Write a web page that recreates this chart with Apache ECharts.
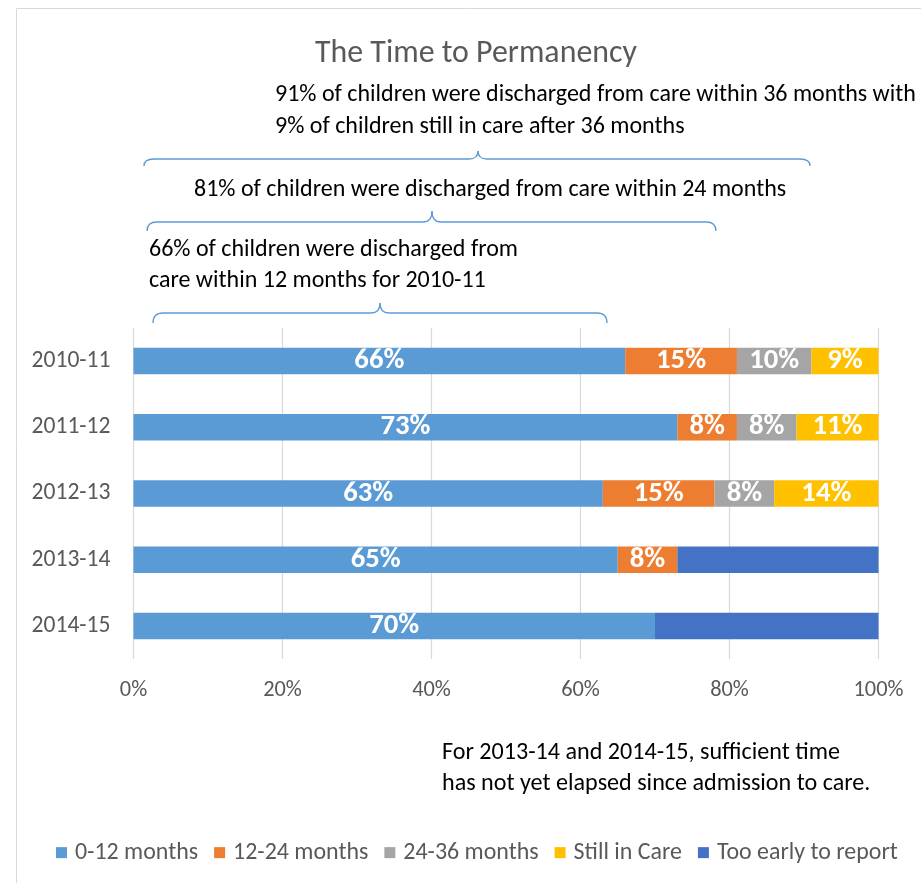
<!DOCTYPE html>
<html>
<head>
<meta charset="utf-8">
<script src="https://cdn.jsdelivr.net/npm/echarts@6/dist/echarts.min.js"></script>
<style>html,body{margin:0;padding:0;background:#fff;}#chart{width:921px;height:883px;}</style>
</head>
<body>
<div id="chart"></div>
<script>
const categories = ['2010-11', '2011-12', '2012-13', '2013-14', '2014-15'];
const seriesNames = ['0-12 months', '12-24 months', '24-36 months', 'Still in Care', 'Too early to report'];
const months0to12 = [66, 73, 63, 65, 70];
const months12to24 = [15, 8, 15, 8, 0];
const months24to36 = [10, 8, 8, 0, 0];
const stillInCare = [9, 11, 14, 0, 0];
const tooEarly = [0, 0, 0, 27, 30];
const titleText = 'The Time to Permanency';
const noteLines = ['For 2013-14 and 2014-15, sufficient time', 'has not yet elapsed since admission to care.'];
const annot36 = ['91% of children were discharged from care within 36 months with', '9% of children still in care after 36 months'];
const annot24 = ['81% of children were discharged from care within 24 months'];
const annot12 = ['66% of children were discharged from', 'care within 12 months for 2010-11'];

const colors = ['#5B9BD5', '#ED7D31', '#A5A5A5', '#FFC000', '#4472C4'];
const FONT = 'Carlito, Lato, sans-serif';
const mctx = document.createElement('canvas').getContext('2d');
function measure(text, weight) {
  mctx.font = (weight || 'normal') + ' 100px ' + FONT;
  return mctx.measureText(text).width;
}
function fit(text, target, weight) {
  return 100 * target / measure(text, weight);
}
const titleSize = fit(titleText, 322);
const annSize = fit(annot36[0], 641);
const noteSize = fit(noteLines[0], 398);
const catSize = fit('2010-11', 79);
const tickSize = fit('100%', 50);
const legendSize = 100 * 683 / seriesNames.reduce((s, n) => s + measure(n), 0);
const labelSize = fit('66%', 50, 'bold');

const chart = echarts.init(document.getElementById('chart'), null, {renderer: 'canvas'});

const braceStyle = {stroke: '#5B9BD5', lineWidth: 1.3, fill: 'none'};
function brace(x1, x2, tip, y, tipY, endY) {
  const r = 10, r2 = 9;
  const seg = (a, b, c) => ({type: 'bezierCurve', shape: {x1: a[0], y1: a[1], cpx1: b[0], cpy1: b[1], x2: c[0], y2: c[1]}, style: braceStyle, silent: true});
  const ln = (a, c) => ({type: 'line', shape: {x1: a[0], y1: a[1], x2: c[0], y2: c[1]}, style: braceStyle, silent: true});
  return [
    seg([x1, endY], [x1, y], [x1 + r, y]),
    ln([x1 + r, y], [tip - r2, y]),
    seg([tip - r2, y], [tip, y], [tip, tipY]),
    seg([tip, tipY], [tip, y], [tip + r2, y]),
    ln([tip + r2, y], [x2 - r, y]),
    seg([x2 - r, y], [x2, y], [x2, endY])
  ];
}
function txt(text, x, y, size, color) {
  return {type: 'text', x: x, y: y, style: {text: text, fill: color, font: size.toFixed(2) + 'px ' + FONT, verticalAlign: 'middle', align: 'left'}, silent: true};
}
const dataArrays = [months0to12, months12to24, months24to36, stillInCare, tooEarly];
const series = seriesNames.map((name, i) => ({
  name: name,
  type: 'bar',
  stack: 'total',
  barCategoryGap: '60%',
  data: dataArrays[i],
  itemStyle: {color: colors[i]},
  label: {
    show: i < 4,
    position: 'inside',
    color: '#fff',
    fontWeight: 'bold',
    fontFamily: FONT,
    fontSize: labelSize,
    formatter: p => (p.value ? p.value + '%' : '')
  },
  emphasis: {disabled: true}
}));

const graphics = [
  {type: 'rect', shape: {x: 16.5, y: 8.5, width: 1000, height: 1000}, style: {fill: 'none', stroke: '#D9D9D9', lineWidth: 1}, silent: true, z: -10},
  txt(annot36[0], 275, 95, annSize, '#000'),
  txt(annot36[1], 275, 127, annSize, '#000'),
  txt(annot24[0], 194, 190, annSize, '#000'),
  txt(annot12[0], 149, 250, annSize, '#000'),
  txt(annot12[1], 149, 281, annSize, '#000'),
  txt(noteLines[0], 442, 753, noteSize, '#000'),
  txt(noteLines[1], 442, 784, noteSize, '#000')
].concat(
  brace(144, 810, 478, 159, 151, 166),
  brace(147, 716, 432, 222, 211, 231),
  brace(153, 607, 380, 313, 303, 323)
);

chart.setOption({
  animation: false,
  color: colors,
  title: {
    text: titleText,
    left: 315,
    top: 38,
    padding: 0,
    textStyle: {color: '#595959', fontWeight: 'normal', fontFamily: FONT, fontSize: titleSize}
  },
  legend: {
    data: seriesNames,
    left: 56,
    top: 850 - legendSize * 0.6 + 5,
    padding: 0,
    icon: 'rect',
    itemWidth: 11,
    itemHeight: 11,
    itemGap: 16,
    textStyle: {color: '#595959', fontFamily: FONT, fontSize: legendSize, padding: [0, 0, 0, 3]}
  },
  grid: {left: 133.5, right: 42.5, top: 328, bottom: 224, containLabel: false},
  xAxis: {
    type: 'value',
    min: 0,
    max: 100,
    interval: 20,
    axisLine: {show: false},
    axisTick: {show: false},
    splitLine: {show: true, lineStyle: {color: '#D9D9D9', width: 1.2}},
    axisLabel: {formatter: '{value}%', color: '#595959', fontFamily: FONT, fontSize: tickSize, margin: 692 - 659 - tickSize * 0.55}
  },
  yAxis: {
    type: 'category',
    inverse: true,
    data: categories,
    axisLine: {show: false},
    axisTick: {show: false},
    axisLabel: {color: '#595959', fontFamily: FONT, fontSize: catSize, margin: 23}
  },
  series: series,
  graphic: graphics
});
</script>
</body>
</html>
